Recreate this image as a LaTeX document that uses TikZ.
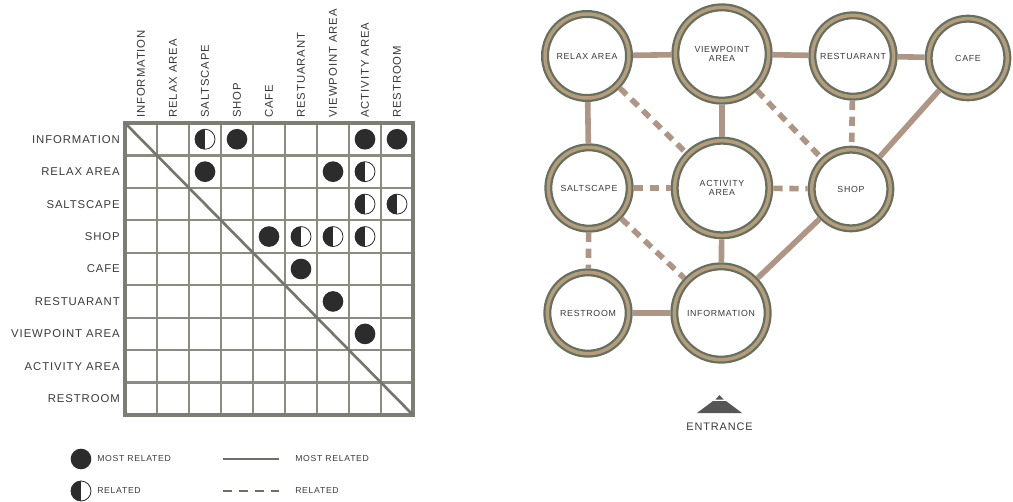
\documentclass[tikz,border=0pt]{standalone}
\usepackage{fontspec}
\newfontfamily\labfont[LetterSpace=8]{Liberation Sans}
\definecolor{ink}{HTML}{3A3A3A}
\definecolor{gridcol}{HTML}{8A8C80}
\definecolor{dotcol}{HTML}{2C2C2C}
\definecolor{ringout}{HTML}{66705F}
\definecolor{ringin}{HTML}{B59D7C}
\definecolor{linkcol}{HTML}{AE9584}
\begin{document}
\begin{tikzpicture}[x=0.75pt,y=-0.75pt,
  rowlab/.style={anchor=east,inner sep=0pt,text=ink,font=\labfont\fontsize{8.5}{9}\selectfont},
  collab/.style={rotate=90,anchor=west,inner sep=0pt,text=ink,font=\labfont\fontsize{8.5}{9}\selectfont},
  mostdot/.style={circle,fill=dotcol,minimum size=15.5pt,inner sep=0pt},
  reldot/.style={circle,draw=dotcol,line width=0.6pt,fill=white,minimum size=15pt,inner sep=0pt,
    path picture={\fill[dotcol] (path picture bounding box.north west) rectangle (path picture bounding box.south);}},
  zone/.style={circle,draw=ringout,line width=1.7pt,double=ringin,double distance=2.6pt,fill=white,
    outer sep=3pt,inner sep=0pt,minimum size=61pt,align=center,text=ink,
    font=\labfont\fontsize{6.6}{7}\selectfont},
  bigzone/.style={zone,minimum size=70pt},
  most/.style={draw=linkcol,line width=4.2pt},
  rel/.style={draw=linkcol,line width=4.2pt,dash pattern=on 7pt off 5pt},
  keytext/.style={anchor=west,inner sep=0pt,text=ink,font=\labfont\fontsize{6.5}{7}\selectfont}]
\useasboundingbox (0,0) rectangle (1013,502);
% relation matrix
\foreach \i in {1,...,8}{
  \draw[gridcol,line width=1.6pt] (125+32*\i,123) -- (125+32*\i,415);
  \draw[gridcol,line width=1.6pt] (125,123+32.44*\i) -- (413,123+32.44*\i);
}
\draw[gridcol!90!black,line width=2.4pt] (125,123) rectangle (413,415);
\draw[gridcol!85!black,line width=2pt] (125,123) -- (413,415);
\foreach \lab [count=\i] in {INFORMATION,RELAX AREA,SALTSCAPE,SHOP,CAFE,RESTUARANT,VIEWPOINT AREA,ACTIVITY AREA,RESTROOM}{
  \node[rowlab] (r\i) at (120,123+32.44*\i-16.2) {\lab};
  \node[collab] (c\i) at (125+32*\i-16,118) {\lab};
}
\foreach \r/\c/\t in {1/3/reldot,1/4/mostdot,1/8/mostdot,1/9/mostdot,2/3/mostdot,2/7/mostdot,2/8/reldot,
  3/8/reldot,3/9/reldot,4/5/mostdot,4/6/reldot,4/7/reldot,4/8/reldot,5/6/mostdot,6/7/mostdot,7/8/mostdot}
  {\node[\t] (m\r-\c) at (125+32*\c-16,123+32.44*\r-16.2) {};}
% legend
\node[mostdot] (kmost) at (81,459) {};
\node[reldot] (krel) at (81,491) {};
\node[keytext] (kmostt) at (97,459) {MOST RELATED};
\node[keytext] (krelt) at (97,491) {RELATED};
\coordinate (ka) at (223,459); \coordinate (kb) at (279,459);
\coordinate (kc) at (223,491); \coordinate (kd) at (279,491);
\draw[gridcol!80!black,line width=1.5pt] (ka) -- (kb);
\draw[gridcol!80!black,line width=1.5pt,dash pattern=on 7pt off 5pt] (kc) -- (kd);
\node[keytext] (kmostl) at (295,459) {MOST RELATED};
\node[keytext] (krell) at (295,491) {RELATED};
% bubble diagram
\node[zone,minimum size=63pt] (relax) at (587,56) {RELAX AREA};
\node[bigzone] (view) at (722,54) {VIEWPOINT\\AREA};
\node[zone] (resto) at (853,56) {RESTUARANT};
\node[zone,minimum size=59pt] (cafe) at (968,58) {CAFE};
\node[zone] (salt) at (589,188) {SALTSCAPE};
\node[bigzone,minimum size=71pt] (act) at (722,188) {ACTIVITY\\AREA};
\node[zone,minimum size=59pt] (shop) at (851,189) {SHOP};
\node[zone] (wc) at (588,313) {RESTROOM};
\node[bigzone] (info) at (721,313) {INFORMATION};
\foreach \a/\b in {relax/view,view/resto,resto/cafe,relax/salt,view/act,cafe/shop,shop/info,act/info,wc/info}{\draw[most] (\a)--(\b);}
\foreach \a/\b in {relax/act,view/shop,resto/shop,salt/act,act/shop,salt/info,salt/wc}{\draw[rel] (\a)--(\b);}
% entrance
\fill[dotcol!80] (719.5,395) -- (723.5,399.5) -- (715.5,399.5) -- cycle;
\fill[dotcol!80] (713,401) -- (726,401) -- (742,413) -- (697,413) -- cycle;
\node[text=ink,inner sep=0pt,font=\labfont\fontsize{8.2}{9}\selectfont] (entr) at (719.5,427) {ENTRANCE};
\end{tikzpicture}
\end{document}
